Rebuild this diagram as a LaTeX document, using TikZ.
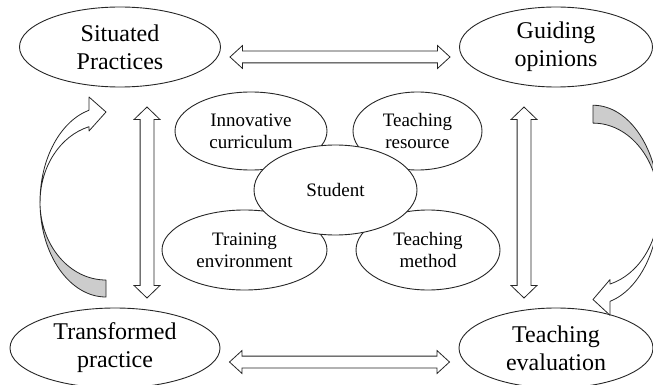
\documentclass[tikz,border=0pt]{standalone}
\usepackage{fontspec}
\setmainfont{Liberation Serif}
\usetikzlibrary{shapes.geometric,shapes.arrows,calc}

\tikzset{
  stage/.style={ellipse, draw=black!85, line width=0.9pt, fill=white, inner sep=0pt,
    align=center, font=\fontsize{24}{28}\selectfont, minimum height=80pt},
  part/.style={ellipse, draw=black!85, line width=0.9pt, fill=white, inner sep=0pt,
    align=center, font=\fontsize{19}{22}\selectfont},
  dblarrow/.style={double arrow, draw=black!85, line width=0.8pt, fill=white},
  harrow/.style={dblarrow, inner sep=5.5pt, minimum height=220pt,
    double arrow head extend=5.5pt, double arrow tip angle=85},
  varrow/.style={dblarrow, rotate=90, inner sep=6.5pt, minimum height=191pt,
    double arrow head extend=6pt, double arrow tip angle=92},
  band/.style={draw=black!85, line width=0.8pt, line join=round}
}

\begin{document}
\begin{tikzpicture}[x=1pt,y=-1pt]
\clip (0,0) rectangle (653,385);
% the four stages in the corners
\node[stage, minimum width=201pt] (sp) at (120,47) {Situated\\Practices};
\node[stage, minimum width=193pt] (go) at (556,47) {Guiding\\opinions};
\node[stage, minimum width=210pt] (tp) at (115,348) {Transformed\\practice};
\node[stage, minimum width=194pt] (te) at (556,348) {Teaching\\evaluation};
% two-way links between the stages
\node[harrow] (sp-go) at ($(sp.east)!.5!(go.west)+(0,10)$) {};
\node[harrow] (tp-te) at ($(tp.east)!.5!(te.west)+(0,14)$) {};
\node[varrow] (sp-tp) at ($(sp.south)!.5!(tp.north)+(29.5,5)$) {};
\node[varrow] (go-te) at ($(go.south)!.5!(te.north)+(-32,5)$) {};
% curved arrows on both sides (grey part is the back of the band)
\foreach \cx/\cy/\r/\s in {106/202/0/1, 593/205/180/1.05} {
  \begin{scope}[shift={(\cx,\cy)}, rotate=\r, yscale=\s]
    \filldraw[band, fill=gray!40] (0,95)
      arc[start angle=90, end angle=180, x radius=66, y radius=95]
      arc[start angle=180, end angle=90, x radius=66, y radius=78] -- cycle;
    \filldraw[band, fill=white] (-66,0)
      arc[start angle=180, end angle=255, x radius=66, y radius=95]
      -- (-17,-105) -- (0,-90) -- (-17,-71) -- (-17,-75.3)
      arc[start angle=255, end angle=180, x radius=66, y radius=78] -- cycle;
  \end{scope}
}
% teaching elements around the student
\node[part, minimum width=152pt, minimum height=78pt] (ic) at (251,131) {Innovative\\curriculum};
\node[part, minimum width=129pt, minimum height=78pt] (tr) at (417.5,131) {Teaching\\resource};
\node[part, minimum width=165pt, minimum height=80pt] (tn) at (244.5,250) {Training\\environment};
\node[part, minimum width=144pt, minimum height=80pt] (tm) at (428,250) {Teaching\\method};
\node[part, minimum width=163pt, minimum height=90pt] (st) at (335.5,190) {Student};
\end{tikzpicture}
\end{document}
